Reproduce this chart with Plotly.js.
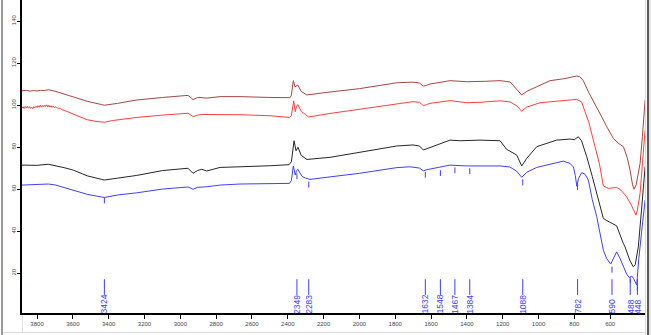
<!DOCTYPE html>
<html>
<head>
<meta charset="utf-8">
<script src="https://cdn.plot.ly/plotly-3.0.1.min.js"></script>
<style>
html,body{margin:0;padding:0;background:#fff;}
#wrap{position:relative;width:651px;height:335px;overflow:hidden;}
#chart{position:absolute;left:0;top:0;width:651px;height:335px;}
.fr{position:absolute;}
</style>
</head>
<body>
<div id="wrap">
<div id="chart"></div>
<div class="fr" style="left:1px;top:0;width:2px;height:335px;background:#9a9a9a;"></div>
<div class="fr" style="left:645px;top:0;width:1px;height:335px;background:#d8d8d8;"></div>
<div class="fr" style="left:647px;top:0;width:2px;height:335px;background:#5a5a5a;"></div>
<div class="fr" style="left:649px;top:0;width:2px;height:335px;background:#e4e4e4;"></div>
<div class="fr" style="left:3px;top:332px;width:642px;height:1px;background:#dcdcdc;"></div>
<div class="fr" style="left:22px;top:315px;width:1px;height:17px;background:#e2e2e2;"></div>
</div>
<script>
// Wavenumbers (cm-1) and transmittance values for each spectrum
const brownX = [3884,3860,3840,3820,3800,3780,3760,3737,3700,3649,3597,3520,3439,3424,3350,3243,3100,3002,2957,2929,2905,2890,2853,2778,2667,2500,2388,2380,2375,2369,2360,2350,2344,2325,2300,2294,2164,2000,1792,1701,1665,1643,1625,1606,1494,1401,1300,1215,1159,1120,1094,1066,1010,936,860,810,787,770,750,720,675,645,619,582,550,526,505,489,475,467,455,443,433,420,405];
const brownY = [106.8,107.0,106.6,106.9,106.7,107.0,106.9,107.3,106.6,105.2,104.0,101.8,100.2,99.9,100.8,102.4,103.6,104.4,104.6,102.6,103.5,103.6,103.3,104.0,104.0,103.6,103.5,104.6,107.5,111.6,108.7,109.3,109.5,106.5,105.0,104.8,106.2,107.8,110.6,110.9,110.5,109.0,109.4,110.0,111.6,111.1,111.3,111.6,111.0,107.5,104.8,106.5,108.7,111.6,112.5,113.2,113.8,113.5,111.6,106.0,99.2,94.0,89.7,84.1,81.5,80.2,75.0,69.0,62.0,59.9,62.0,68.0,72.2,85.0,102.4];

const redX = [3884,3878,3872,3866,3860,3854,3848,3842,3836,3830,3824,3818,3812,3806,3800,3794,3788,3782,3776,3770,3764,3758,3752,3746,3740,3734,3728,3722,3716,3710,3704,3698,3690,3680,3670,3660,3649,3630,3597,3560,3520,3470,3439,3424,3380,3320,3243,3100,3002,2957,2929,2905,2880,2853,2778,2667,2500,2391,2380,2372,2367,2358,2352,2344,2325,2300,2285,2164,2000,1792,1701,1665,1643,1625,1606,1494,1440,1401,1327,1215,1159,1120,1094,1066,992,900,862,787,760,750,720,694,660,638,610,590,564,540,508,480,462,456,448,433,420,405];
const redY = [98.4,99.2,98.3,99.3,98.6,99.5,98.5,99.2,98.4,99.0,98.3,99.3,98.7,99.4,98.8,99.7,98.9,99.9,99.0,99.8,99.1,100.0,99.2,100.1,99.1,99.9,99.0,99.7,98.9,99.5,98.8,99.2,98.7,98.4,98.5,97.7,97.5,96.8,95.8,94.2,93.0,92.2,92.0,91.8,92.6,93.4,94.1,95.2,96.0,96.1,94.5,95.2,95.5,95.5,95.5,95.4,94.9,94.1,95.0,99.0,102.0,96.8,99.2,100.2,97.0,95.4,94.3,96.0,98.0,100.8,101.6,101.3,99.7,100.2,100.8,102.1,101.6,101.1,101.3,102.0,101.5,99.5,97.1,99.0,101.1,101.8,102.4,102.7,101.5,99.2,92.0,83.3,72.0,61.5,60.3,60.5,60.8,59.5,56.3,52.0,48.0,47.6,50.0,58.0,72.0,88.0];

const blackX = [3884,3800,3737,3700,3649,3597,3520,3439,3424,3350,3243,3100,3002,2957,2929,2905,2880,2853,2778,2722,2667,2500,2393,2380,2372,2365,2354,2348,2343,2325,2300,2293,2164,2000,1792,1701,1665,1643,1625,1606,1550,1494,1438,1327,1215,1178,1122,1094,1066,1010,899,824,800,778,760,731,700,675,638,619,590,564,526,517,490,471,460,443,425,405];
const blackY = [71.4,71.3,71.8,71.2,70.2,69.0,66.3,64.6,64.3,65.2,66.5,68.8,69.7,69.9,67.5,68.8,69.4,68.6,70.3,70.3,70.6,71.1,71.6,73.0,78.0,83.0,78.2,79.5,79.9,76.0,74.3,74.1,75.1,77.5,80.5,81.0,80.5,78.6,79.2,79.9,81.7,83.3,83.0,83.3,83.0,78.9,76.2,71.0,74.6,80.2,83.3,83.8,83.5,84.9,83.0,75.4,66.0,58.0,46.0,45.0,43.5,42.5,34.0,32.5,26.0,23.0,24.0,32.5,50.0,70.6];

const blueX = [3884,3800,3737,3700,3649,3597,3520,3439,3424,3350,3243,3100,3002,2957,2929,2905,2853,2778,2667,2500,2391,2380,2374,2369,2358,2352,2344,2320,2300,2294,2276,2164,2000,1792,1718,1665,1643,1625,1606,1550,1494,1401,1364,1215,1160,1122,1094,1066,1010,950,862,824,805,795,786,777,759,740,722,700,675,638,620,597,580,564,545,526,508,493,480,470,461,452,440,433,424,405];
const blueY = [61.9,62.0,62.4,62.0,60.8,59.5,57.5,56.2,56.0,57.2,58.2,60.0,60.8,61.0,59.9,60.8,61.1,61.9,62.4,62.6,62.7,64.0,68.0,71.0,66.7,68.5,69.4,66.0,65.2,65.1,64.6,65.8,67.5,70.2,70.6,70.0,68.7,69.2,69.5,70.3,71.4,71.0,71.0,71.0,70.5,68.5,65.6,68.0,70.3,71.5,73.3,72.2,70.5,66.5,61.3,65.0,67.8,67.0,64.3,55.0,46.8,30.9,27.0,24.3,27.0,30.1,27.0,23.0,19.5,17.9,18.6,17.5,15.5,14.3,27.0,34.1,40.0,54.8];

// Peak labels and the marker tops read below the blue spectrum
const peakLabels = [3424,2349,2283,1632,1548,1467,1384,1088,782,590,488,448];
const peakMarkTop = [56.0,67.5,63.5,68.2,69.0,70.3,69.9,64.6,62.4,23.0,18.2,14.3];

// axis ticks
const xTicks = [3800,3600,3400,3200,3000,2800,2600,2400,2200,2000,1800,1600,1400,1200,1000,800,600];
const yTicks = [20,40,60,80,100,120,140];

const BLUE = '#3c3cff';
const traces = [
  {x: brownX, y: brownY, color: '#a84444'},
  {x: redX, y: redY, color: '#ff3f3f'},
  {x: blackX, y: blackY, color: '#262626'},
  {x: blueX, y: blueY, color: '#3f3fff'}
].map(s => ({x: s.x, y: s.y, type: 'scatter', mode: 'lines',
  line: {color: s.color, width: 1}, hoverinfo: 'skip', showlegend: false}));

const shapes = [];
const annotations = [];
peakLabels.forEach((p, i) => {
  shapes.push({type: 'line', xref: 'x', yref: 'y', x0: p, x1: p,
    y0: peakMarkTop[i], y1: peakMarkTop[i] - 2.8, line: {color: BLUE, width: 1}});
  shapes.push({type: 'line', xref: 'x', yref: 'y', x0: p, x1: p,
    y0: 17.1, y1: 9.6, line: {color: BLUE, width: 1}});
  annotations.push({x: p, y: 1.2, xref: 'x', yref: 'y', yshift: -2, text: String(p),
    showarrow: false, textangle: -90, xanchor: 'center', yanchor: 'bottom', borderpad: 0,
    font: {family: 'Arial, Liberation Sans, sans-serif', size: 8.5, color: BLUE}});
});

const layout = {
  width: 651, height: 335,
  margin: {l: 22, r: 5, t: 0, b: 22, pad: 0},
  paper_bgcolor: 'rgba(0,0,0,0)', plot_bgcolor: '#fff',
  showlegend: false,
  xaxis: {range: [3884, 400], tickvals: xTicks, ticktext: xTicks.map(String),
    showgrid: false, zeroline: false, showline: true, linecolor: '#000', linewidth: 2,
    ticks: 'outside', ticklen: 4, tickwidth: 1, tickcolor: '#000',
    tickfont: {family: 'Arial, Liberation Sans, sans-serif', size: 6, color: '#444'}},
  yaxis: {range: [1, 150], tickvals: yTicks, ticktext: yTicks.map(String),
    showgrid: false, zeroline: false, showline: true, linecolor: '#000', linewidth: 2,
    ticks: 'outside', ticklen: 3, tickwidth: 1, tickcolor: '#000', tickangle: -90,
    ticklabelstandoff: -1,
    tickfont: {family: 'Arial, Liberation Sans, sans-serif', size: 6, color: '#444'}},
  shapes: shapes,
  annotations: annotations
};

Plotly.newPlot('chart', traces, layout, {staticPlot: true, displayModeBar: false});
</script>
</body>
</html>
